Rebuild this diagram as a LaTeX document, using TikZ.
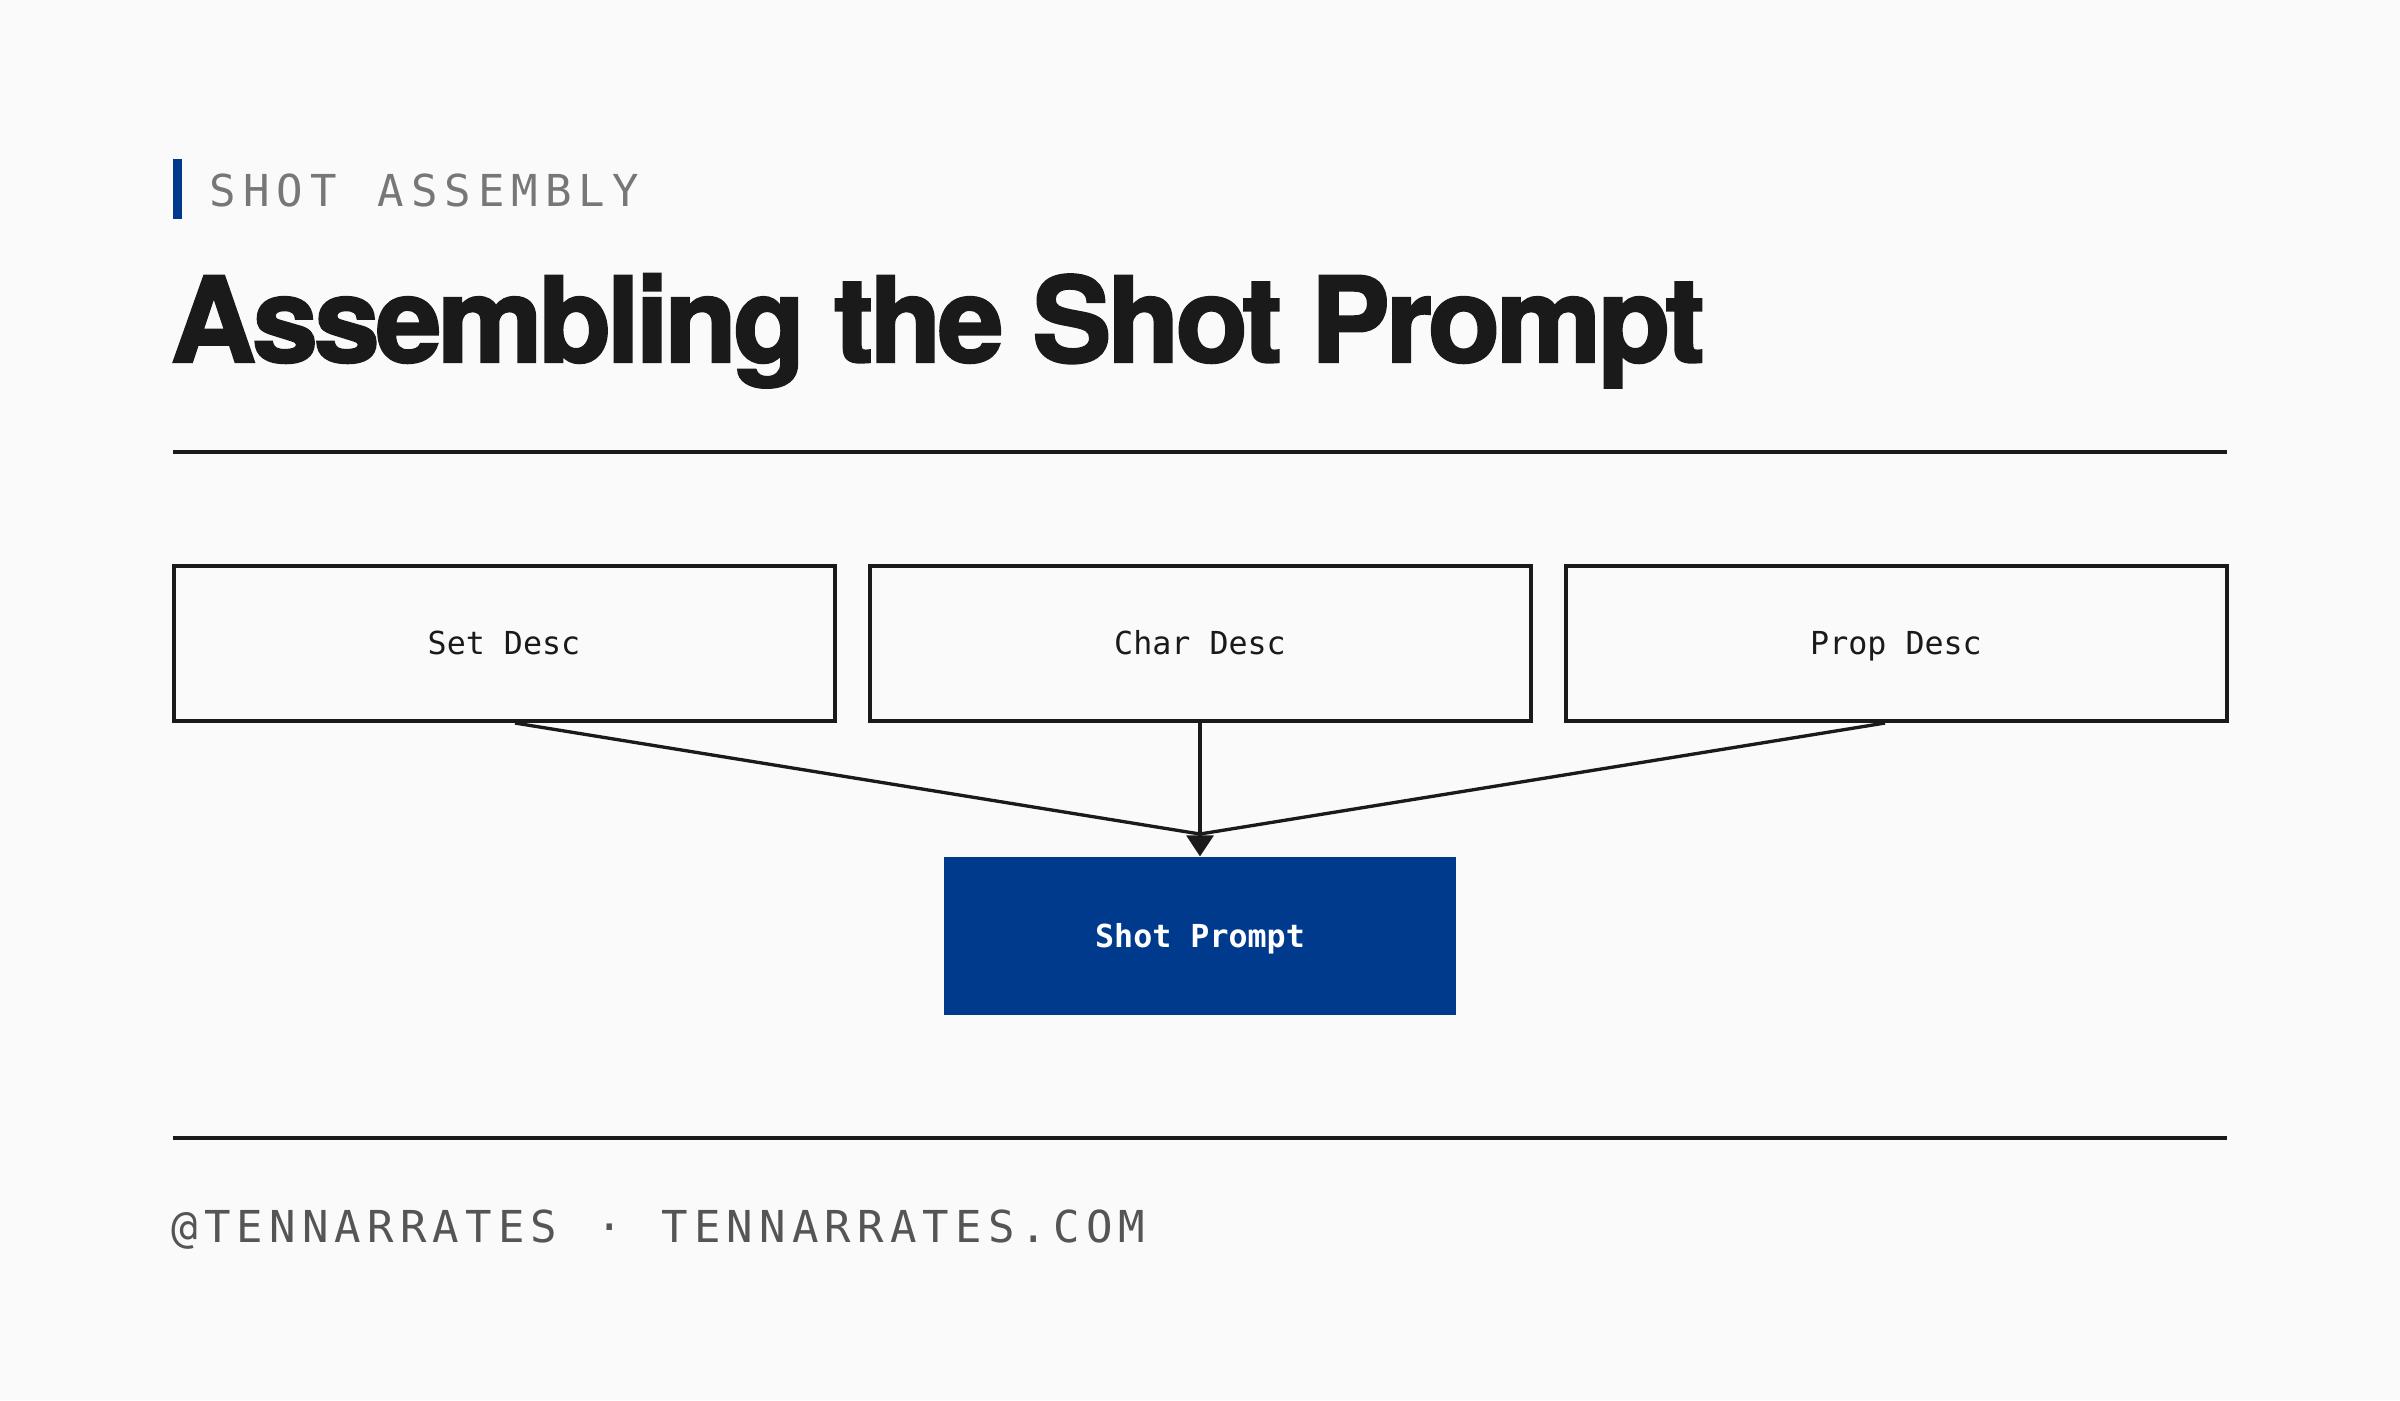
\documentclass[tikz,border=0pt]{standalone}
\usepackage{fontspec}
\usetikzlibrary{arrows.meta,calc}
\setmainfont{TeX Gyre Heros}
\newfontfamily\titlefont{TeX Gyre Heros}[BoldFeatures={FakeBold=2},LetterSpace=-3.4]
\newfontfamily\boxmono{DejaVu Sans Mono}
\newfontfamily\kickmono{DejaVu Sans Mono}[LetterSpace=16]
\newfontfamily\footmono{DejaVu Sans Mono}[LetterSpace=14]
\definecolor{bg}{HTML}{FAFAFA}
\definecolor{ink}{HTML}{1A1A1A}
\definecolor{accent}{HTML}{003A8C}
\definecolor{kicker}{HTML}{777777}
\definecolor{footer}{HTML}{555555}
\tikzset{
  srcbox/.style={draw=ink, line width=1.2pt, fill=bg, minimum width=198.3pt, minimum height=46.5pt, inner sep=0pt,
    text height=6.6pt, text depth=0pt,
    font=\boxmono\fontsize{9.5}{11}\selectfont, text=ink},
  outbox/.style={fill=accent, minimum width=153.6pt, minimum height=47.4pt, inner sep=0pt,
    text height=6.6pt, text depth=0pt,
    font=\boxmono\bfseries\fontsize{9.5}{11}\selectfont, text=white},
  rule/.style={draw=ink, line width=1.2pt},
  link/.style={draw=ink, line width=1pt},
}
\begin{document}
\begin{tikzpicture}[x=0.3pt,y=-0.3pt]
\fill[bg] (0,0) rectangle (2400,1400);
\useasboundingbox (0,0) rectangle (2400,1400);
% kicker
\fill[accent] (173,159) rectangle (182,219);
\node[anchor=base west, inner sep=0pt, text=kicker, font=\kickmono\fontsize{13.2}{15}\selectfont] (kick) at (209,206) {SHOT\ \hspace{2.2pt}ASSEMBLY};
% title
\node[anchor=base west, inner sep=0pt, text=ink, font=\titlefont\bfseries\fontsize{35.5}{40}\selectfont] (title) at (170,362) {Assembling the Shot Prompt};
% rules
\coordinate (r1a) at (173,452); \coordinate (r1b) at (2227,452);
\draw[rule] (r1a) -- (r1b);
\coordinate (r2a) at (173,1138); \coordinate (r2b) at (2227,1138);
\draw[rule] (r2a) -- (r2b);
% boxes
\node[srcbox] (set) at (504,643.5) {Set Desc};
\node[srcbox] (char) at (1200,643.5) {Char Desc};
\node[srcbox] (prop) at (1896,643.5) {Prop Desc};
\node[outbox] (shot) at (1200,936) {Shot Prompt};
% connectors
\coordinate (join) at (1200,834);
\draw[link] ([xshift=3.3pt]set.south) -- (join);
\draw[link] ([xshift=-3.3pt]prop.south) -- (join);
\draw[link, -{Triangle[width=8.1pt,length=6.3pt]}] (char.south) -- (shot.north);
% footer
\node[anchor=base west, inner sep=0pt, text=footer, font=\footmono\fontsize{13.2}{15}\selectfont] (foot) at (171,1242) {@TENNARRATES\ \hspace{1.9pt}·\ \hspace{1.9pt}TENNARRATES.COM};
\end{tikzpicture}
\end{document}
